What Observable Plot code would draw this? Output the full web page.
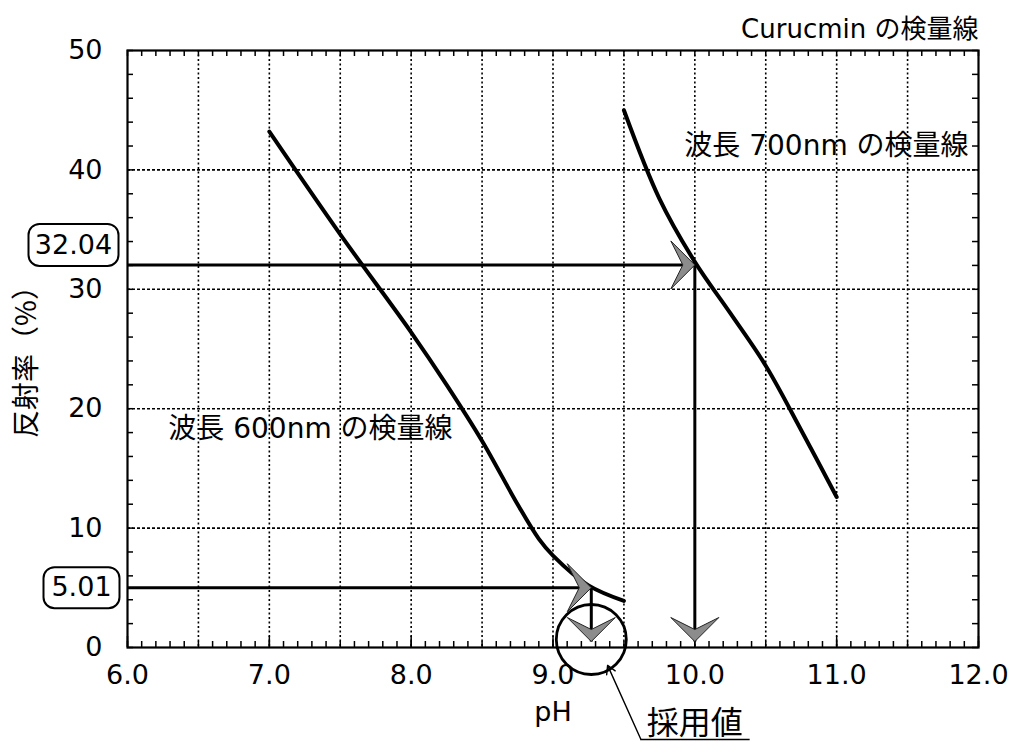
<!DOCTYPE html>
<html><head><meta charset="utf-8">
<script src="https://cdn.jsdelivr.net/npm/d3@7"></script>
<script src="https://cdn.jsdelivr.net/npm/@observablehq/plot@0.6"></script>
<style>html,body{margin:0;padding:0;background:#fff;overflow:hidden}</style>
</head><body><div id="chart"></div>
<script>
// ---- data ----
const pH600 = [7.0, 7.5, 8.0, 8.25, 8.5, 8.75, 8.9, 9.0, 9.25, 9.5];
const refl600 = [43.2, 34.6, 26.4, 22.0, 17.3, 12.0, 9.1, 7.7, 5.2, 3.9];
const pH700 = [9.5, 9.75, 10.0, 10.25, 10.5, 10.75, 11.0];
const refl700 = [45.0, 37.6, 32.3, 28.0, 23.6, 18.2, 12.6];
const readValues = [32.04, 5.01];
const readLabels = ["32.04", "5.01"];
const readPH = [10.0, 9.27];
const arrowTipValue = 0.5;
const xTickValues = [6, 7, 8, 9, 10, 11, 12];
const yTickValues = [0, 10, 20, 30, 40, 50];
const xGridValues = [6.5, 7, 7.5, 8, 8.5, 9, 9.5, 10, 10.5, 11, 11.5];
const yGridValues = [10, 20, 30, 40];
const xMinorValues = d3.range(60, 121).map(d => d / 10);
const yMinorValues = d3.range(0, 51, 2);
const titleText = "Curucmin の検量線";
const xLabel = "pH";
const yLabel = "反射率（%）";
const curveLabels = ["波長 600nm の検量線", "波長 700nm の検量線"];
const adoptedLabel = "採用値";

// ---- layout ----
const W = 1018, H = 742, mL = 127, mR = 40, mT = 50, mB = 95;
const frameH = H - mT - mB, frameW = W - mL - mR;
const FONT = "'DejaVu Sans', 'Noto Sans CJK JP', sans-serif";
const CJK = "'Noto Sans CJK JP', sans-serif";

const line600 = pH600.map((x, i) => ({x, y: refl600[i]}));
const line700 = pH700.map((x, i) => ({x, y: refl700[i]}));
const readings = readValues.map((v, i) => ({v, label: readLabels[i], pH: readPH[i]}));

const arrowHead = {draw(ctx) {
  ctx.moveTo(0, 0); ctx.lineTo(-24, -24); ctx.lineTo(-12, 0); ctx.lineTo(-24, 24); ctx.closePath();
}};
function roundBox(w, h, r) {
  return {draw(ctx) {
    const x = -w / 2, y = -h / 2;
    ctx.moveTo(x + r, y); ctx.lineTo(x + w - r, y); ctx.arcTo(x + w, y, x + w, y + r, r);
    ctx.lineTo(x + w, y + h - r); ctx.arcTo(x + w, y + h, x + w - r, y + h, r);
    ctx.lineTo(x + r, y + h); ctx.arcTo(x, y + h, x, y + h - r, r);
    ctx.lineTo(x, y + r); ctx.arcTo(x, y, x + r, y, r); ctx.closePath();
  }};
}

const chart = Plot.plot({
  width: W, height: H,
  marginLeft: mL, marginRight: mR, marginTop: mT, marginBottom: mB,
  x: {domain: [6, 12]},
  y: {domain: [0, 50]},
  style: {fontFamily: FONT, fontSize: "27px", background: "white", color: "black"},
  marks: [
    Plot.ruleX(xGridValues, {stroke: "black", strokeWidth: 1.6, strokeDasharray: "2,2.5"}),
    Plot.ruleY(yGridValues, {stroke: "black", strokeWidth: 1.6, strokeDasharray: "3,2"}),
    Plot.tickX(xMinorValues, {x: d => d, insetTop: frameH - 6, strokeWidth: 1.5}),
    Plot.tickX(xTickValues, {x: d => d, insetTop: frameH - 11, strokeWidth: 1.5}),
    Plot.tickX(xMinorValues, {x: d => d, insetBottom: frameH - 6, strokeWidth: 1.5}),
    Plot.tickY(yMinorValues, {y: d => d, insetRight: frameW - 6, strokeWidth: 1.5}),
    Plot.tickY(yMinorValues, {y: d => d, insetLeft: frameW - 6, strokeWidth: 1.5}),
    Plot.frame({stroke: "black", strokeWidth: 2.2}),
    Plot.axisX(xTickValues, {tickFormat: d => d.toFixed(1), tickSize: 0, tickPadding: 17, label: null, fontSize: 27}),
    Plot.axisY(yTickValues, {tickSize: 0, tickPadding: 25, label: null, fontSize: 27}),
    // calibration curves
    Plot.line(line600, {x: "x", y: "y", stroke: "black", strokeWidth: 4, curve: "catmull-rom"}),
    Plot.line(line700, {x: "x", y: "y", stroke: "black", strokeWidth: 4, curve: "catmull-rom"}),
    // reading arrows
    Plot.link(readings, {x1: 6, x2: "pH", y1: "v", y2: "v", stroke: "black", strokeWidth: 3}),
    Plot.link(readings, {x1: "pH", x2: "pH", y1: "v", y2: arrowTipValue, stroke: "black", strokeWidth: 3}),
    Plot.dot(readings, {x: "pH", y: "v", symbol: arrowHead, rotate: 0, fill: "#8c8c8c", stroke: "#222", strokeWidth: 1}),
    Plot.dot(readings, {x: "pH", y: arrowTipValue, symbol: arrowHead, rotate: 90, fill: "#8c8c8c", stroke: "#222", strokeWidth: 1}),
    // adopted value circle
    Plot.dot([readings[1]], {x: "pH", y: 0, dy: -8, r: 35, fill: "none", stroke: "black", strokeWidth: 2.8}),
    // value boxes
    Plot.dot([readings[0]], {x: 6, y: "v", dx: -54, dy: -20, symbol: roundBox(90, 42, 11), fill: "white", stroke: "black", strokeWidth: 2}),
    Plot.text([readings[0]], {x: 6, y: "v", dx: -54, dy: -20, text: "label", fontSize: 27}),
    Plot.dot([readings[1]], {x: 6, y: "v", dx: -46, dy: 0, symbol: roundBox(76, 41, 11), fill: "white", stroke: "black", strokeWidth: 2}),
    Plot.text([readings[1]], {x: 6, y: "v", dx: -46, dy: 0, text: "label", fontSize: 27}),
    // curve labels
    Plot.text([curveLabels[0]], {x: 7.29, y: 18.3, text: d => d, fontSize: 28}),
    Plot.text([curveLabels[1]], {x: 11.93, y: 42.0, text: d => d, textAnchor: "end", fontSize: 28}),
    // title and axis labels
    Plot.text([titleText], {x: 12, y: 50, dy: -21, text: d => d, textAnchor: "end", fontSize: 26}),
    Plot.text([xLabel], {x: 9, y: 0, dy: 65, text: d => d, fontSize: 27}),
    Plot.text([yLabel], {frameAnchor: "left", dx: -100, dy: 6, rotate: -90, textAnchor: "middle", text: d => d, fontSize: 28, fontFamily: CJK}),
    // adopted value annotation
    Plot.text([adoptedLabel], {x: 10.0, y: 0, dy: 76, text: d => d, fontSize: 32, fontFamily: CJK}),
    Plot.ruleY([-7.7], {x1: 9.62, x2: 10.39, stroke: "black", strokeWidth: 1.6}),
    Plot.arrow([0], {x1: 9.62, y1: -7.7, x2: 9.385, y2: -1.5, stroke: "black", strokeWidth: 1.4, headLength: 10, bend: false})
  ]
});
document.getElementById("chart").appendChild(chart);
</script>
</body></html>
